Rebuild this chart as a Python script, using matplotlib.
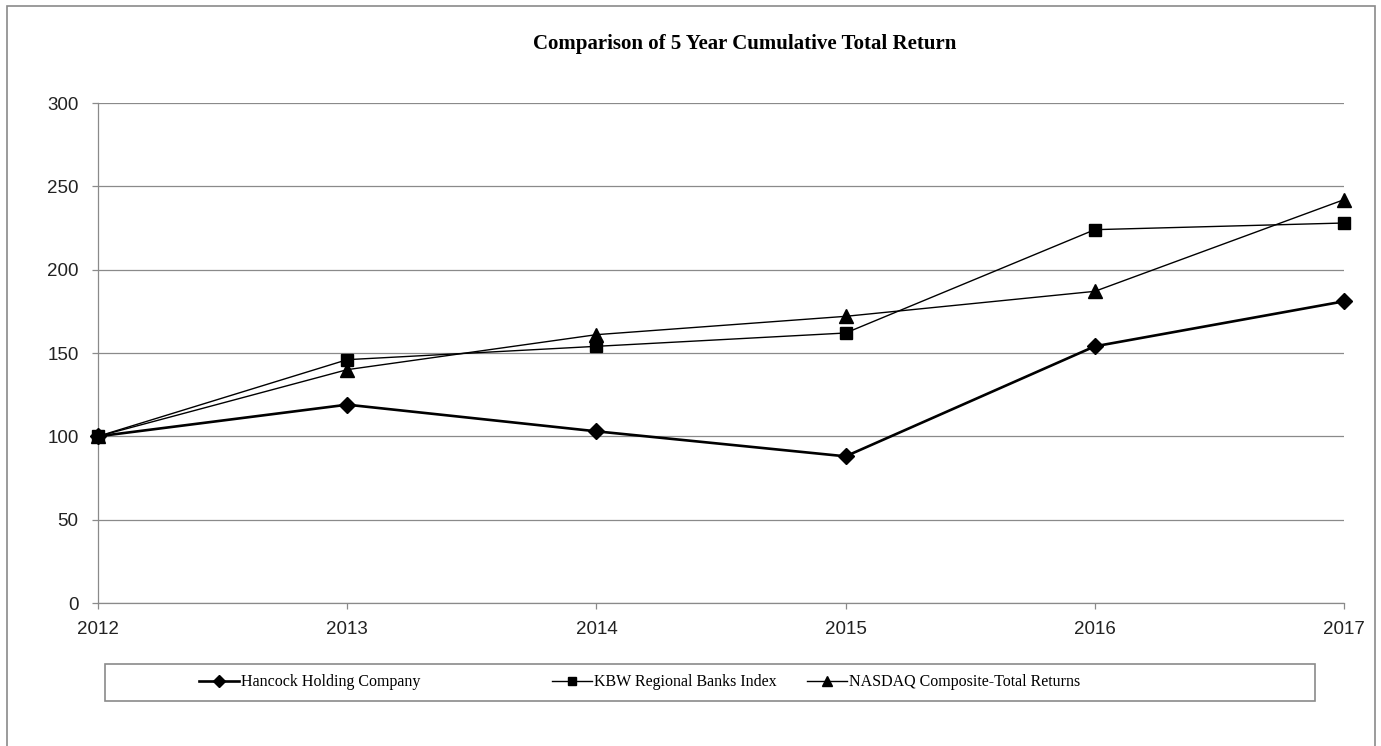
import matplotlib
matplotlib.use('Agg')
import matplotlib.pyplot as plt
from matplotlib.patches import Rectangle
from matplotlib.lines import Line2D

years = [2012, 2013, 2014, 2015, 2016, 2017]
hancock = [100, 119, 103, 88, 154, 181]
kbw = [100, 146, 154, 162, 224, 228]
nasdaq = [100, 140, 161, 172, 187, 242]
y_ticks = [0, 50, 100, 150, 200, 250, 300]
series_names = ['Hancock Holding Company', 'KBW Regional Banks Index',
                'NASDAQ Composite-Total Returns']

W, H = 1381, 746
fig = plt.figure(figsize=(W / 100, H / 100), dpi=100)
ax = fig.add_axes([98 / W, 1 - 603 / H, (1344 - 98) / W, (603 - 103) / H])

grey = '#8a8a8a'
sans = 'Liberation Sans'
serif = 'Liberation Serif'

# series
h1, = ax.plot(years, hancock, color='black', lw=1.9, marker='D', ms=8,
              zorder=3, clip_on=False)
h2, = ax.plot(years, kbw, color='black', lw=1.0, marker='s', ms=8.5,
              zorder=3, clip_on=False)
h3, = ax.plot(years, nasdaq, color='black', lw=1.0, marker='^', ms=10,
              zorder=3, clip_on=False)

ax.set_xlim(2012, 2017)
ax.set_ylim(0, 300)
ax.set_yticks(y_ticks)
ax.set_xticks(years)
ax.yaxis.grid(True, color=grey, lw=0.9)
ax.set_axisbelow(True)
for s in ['top', 'right']:
    ax.spines[s].set_visible(False)
for s in ['left', 'bottom']:
    ax.spines[s].set_color(grey)
    ax.spines[s].set_linewidth(0.9)
ax.tick_params(axis='y', length=4, width=0.9, color=grey, pad=10, labelsize=13.5)
ax.tick_params(axis='x', length=4, width=0.9, color=grey, pad=9, labelsize=13.5)
for lab in ax.get_xticklabels() + ax.get_yticklabels():
    lab.set_fontfamily(sans)
    lab.set_color('#222222')

fig.text(745 / W, 1 - 44 / H, 'Comparison of 5 Year Cumulative Total Return',
         ha='center', va='center', fontsize=15, fontweight='bold',
         family=serif)

# outer chart border
fig.patches.append(Rectangle((7 / W, -0.1), (1375 - 7) / W, 1.1 - 6 / H,
                             transform=fig.transFigure, fill=False,
                             edgecolor=grey, lw=1.2))
# legend box
fig.patches.append(Rectangle((105 / W, 1 - 701 / H), (1315 - 105) / W, 37 / H,
                             transform=fig.transFigure, fill=False,
                             edgecolor=grey, lw=1.2))

handles = [h1, h2, h3]
starts = [199, 552, 807]
for hd, name, x0 in zip(handles, series_names, starts):
    proxy = Line2D([], [], color='black', lw=hd.get_linewidth(),
                   marker=hd.get_marker(), ms=hd.get_markersize() * 0.75)
    fig.legend([proxy], [name], loc='center left',
               bbox_to_anchor=(x0 / W, 1 - 682.5 / H), frameon=False,
               handlelength=2.5, handletextpad=0.1, borderpad=0, borderaxespad=0,
               prop={'family': serif, 'size': 11.5})

fig.savefig('out.png', dpi=100)
